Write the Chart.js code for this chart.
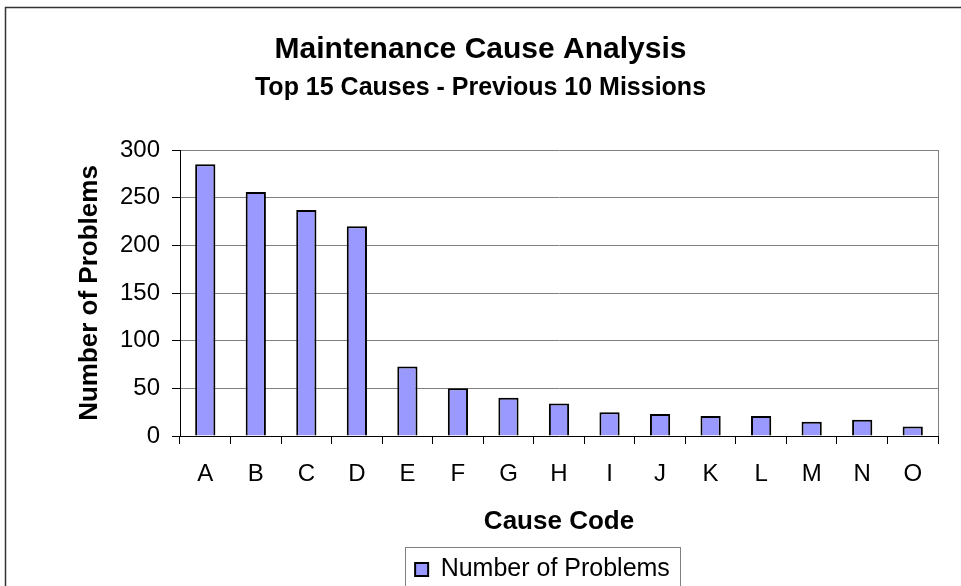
<!DOCTYPE html>
<html>
<head>
<meta charset="utf-8">
<script src="https://cdn.jsdelivr.net/npm/chart.js@4"></script>
<style>
  body { margin: 0; background: #fff; }
  #wrap { width: 961px; height: 586px; }
</style>
</head>
<body>
<div id="wrap"><canvas id="myChart" width="961" height="586"></canvas></div>
<script>
// Data
const causes = ['A', 'B', 'C', 'D', 'E', 'F', 'G', 'H', 'I', 'J', 'K', 'L', 'M', 'N', 'O'];
const problems = [285, 256, 237, 220, 73, 50, 40, 34, 25, 23, 21, 21, 15, 17, 10];
const yTicks = [0, 50, 100, 150, 200, 250, 300];

const FONT = "'Liberation Sans', Arial, sans-serif";

// outer frame, right edge of plot area and box round the legend
const framePlugin = {
    id: 'frames',
    afterLayout(chart) {
        // legend sits right of centre and a bit lower in the original
        chart.legend.left += 62;
        chart.legend.right += 62;
        chart.legend.top += 6;
        chart.legend.bottom += 6;
    },
    afterDraw(chart) {
        const ctx = chart.ctx;
        const area = chart.chartArea;
        ctx.save();
        ctx.strokeStyle = '#333';
        ctx.lineWidth = 1.5;
        ctx.strokeRect(5.5, 7.5, 1000, 1000);

        ctx.strokeStyle = '#808080';
        ctx.lineWidth = 1;
        ctx.beginPath();
        ctx.moveTo(Math.round(area.right) + 0.5, area.top);
        ctx.lineTo(Math.round(area.right) + 0.5, area.bottom);
        ctx.stroke();

        const hb = chart.legend.legendHitBoxes[0];
        if (hb) {
            ctx.strokeRect(Math.round(hb.left - 10) + 0.5, Math.round(hb.top - 10) + 0.5,
                Math.round(hb.width + 20), 100);
        }
        ctx.restore();
    }
};

const ctx = document.getElementById('myChart').getContext('2d');
new Chart(ctx, {
    type: 'bar',
    data: {
        labels: causes,
        datasets: [{
            label: 'Number of Problems',
            data: problems,
            backgroundColor: '#9999FF',
            borderColor: '#000000',
            borderWidth: 2,
            barPercentage: 0.4,
            categoryPercentage: 1.0
        }]
    },
    options: {
        responsive: false,
        animation: false,
        layout: { padding: { left: 23, right: 23, top: 0, bottom: 0 } },
        plugins: {
            title: {
                display: true,
                text: 'Maintenance Cause Analysis',
                color: '#000',
                font: { family: FONT, size: 30, weight: 'bold' },
                padding: { top: 31.5, bottom: 0 }
            },
            subtitle: {
                display: true,
                text: 'Top 15 Causes - Previous 10 Missions',
                color: '#000',
                font: { family: FONT, size: 25, weight: 'bold' },
                padding: { top: 6, bottom: 46.5 }
            },
            legend: {
                position: 'bottom',
                labels: {
                    color: '#000',
                    font: { family: FONT, size: 25 },
                    boxWidth: 13,
                    boxHeight: 13,
                    padding: 6
                }
            },
            tooltip: { enabled: false }
        },
        scales: {
            x: {
                grid: {
                    offset: true,
                    drawOnChartArea: false,
                    tickLength: 8,
                    color: '#000'
                },
                border: { color: '#000', width: 1 },
                ticks: {
                    color: '#000',
                    font: { family: FONT, size: 24 },
                    padding: 16,
                    maxRotation: 0
                },
                title: {
                    display: true,
                    text: 'Cause Code',
                    color: '#000',
                    font: { family: FONT, size: 26, weight: 'bold' },
                    padding: { top: 7.4, bottom: 7.4 }
                },
                afterFit(scale) { scale.height = 150 - scale.chart.legend.height; }
            },
            y: {
                min: 0,
                max: 300,
                afterBuildTicks(scale) { scale.ticks = yTicks.map(v => ({ value: v })); },
                grid: {
                    color: '#808080',
                    tickColor: '#000',
                    tickLength: 8
                },
                border: { color: '#000', width: 1 },
                ticks: {
                    color: '#000',
                    font: { family: FONT, size: 24 },
                    padding: 12
                },
                title: {
                    display: true,
                    text: 'Number of Problems',
                    color: '#000',
                    font: { family: FONT, size: 26, weight: 'bold' },
                    padding: { top: 51.4, bottom: 51.4 }
                },
                afterFit(scale) { scale.width = 157; }
            }
        }
    },
    plugins: [framePlugin]
});
</script>
</body>
</html>
